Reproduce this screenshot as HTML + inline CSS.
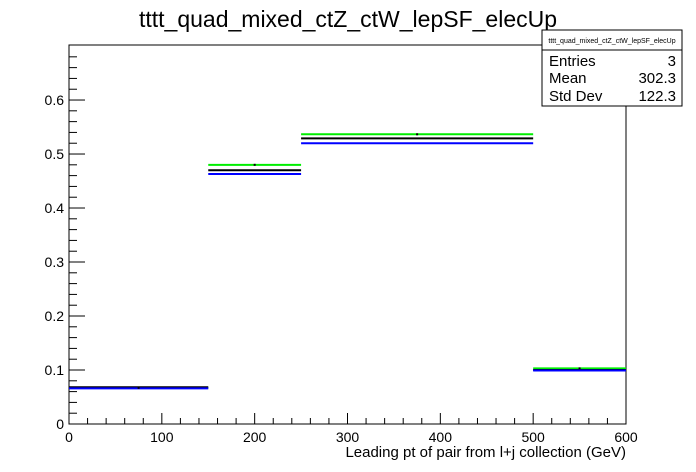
<!DOCTYPE html>
<html><head><style>
body{margin:0;background:#fff;font-family:"Liberation Sans",sans-serif}
svg{display:block}
</style></head><body>
<svg id="c" width="696" height="472" xmlns="http://www.w3.org/2000/svg">
<text x="348" y="27" font-size="23" text-anchor="middle">tttt_quad_mixed_ctZ_ctW_lepSF_elecUp</text>
<g id="axes"></g>
<g id="bars"></g>
<text x="626" y="457" font-size="15" text-anchor="end">Leading pt of pair from l+j collection (GeV)</text>
<g>
<rect x="542" y="30" width="140" height="76" fill="#fff" stroke="#000"/>
<line x1="542" y1="50" x2="682" y2="50" stroke="#000"/>
<text x="612" y="43" font-size="7" text-anchor="middle">tttt_quad_mixed_ctZ_ctW_lepSF_elecUp</text>
<text x="549" y="66" font-size="15">Entries</text><text x="676" y="66" font-size="15" text-anchor="end">3</text>
<text x="549" y="83" font-size="15">Mean</text><text x="676" y="83" font-size="15" text-anchor="end">302.3</text>
<text x="549" y="101" font-size="15">Std Dev</text><text x="676" y="101" font-size="15" text-anchor="end">122.3</text>
</g>
</svg>
<script>
const binEdges=[0,150,250,500,600];
const greenVals=[0.067,0.480,0.5365,0.103];
const blackVals=[0.068,0.470,0.529,0.100];
const blueVals=[0.066,0.463,0.520,0.099];
const xTicks=[0,100,200,300,400,500,600];
const yTicks=[0,0.1,0.2,0.3,0.4,0.5,0.6];
const X0=69,X1=626,Y0=424,YT=45,XMAX=600,YMAX=0.7019;
const sx=v=>X0+(X1-X0)*v/XMAX, sy=v=>Y0-(Y0-YT)*v/YMAX;
const NS="http://www.w3.org/2000/svg";
const ax=document.getElementById('axes'), bars=document.getElementById('bars');
function mk(p,tag,a){const e=document.createElementNS(NS,tag);for(const k in a)e.setAttribute(k,a[k]);p.appendChild(e);return e;}
const fr=mk(ax,'rect',{x:X0,y:YT,width:X1-X0,height:Y0-YT,fill:'none',stroke:'#000'});


for(let v=0;v<=XMAX+1e-9;v+=20){const big=v%100===0;mk(ax,'line',{x1:sx(v),x2:sx(v),y1:Y0,y2:Y0-(big?11:6),stroke:'#000'});}
for(let i=0;i<=68;i+=2){const v=i/100;const big=i%10===0;mk(ax,'line',{x1:X0,x2:X0+(big?16:8),y1:sy(v),y2:sy(v),stroke:'#000'});}
xTicks.forEach(t=>{const e=mk(ax,'text',{x:sx(t),y:Y0+18,'font-size':14,'text-anchor':'middle'});e.textContent=t;

});
yTicks.forEach(t=>{const e=mk(ax,'text',{x:X0-5,y:sy(t)+5,'font-size':14,'text-anchor':'end'});e.textContent=t===0?'0':t.toFixed(1);

});
[[greenVals,'#00ee00','green'],[blackVals,'#000','black'],[blueVals,'#0000ff','blue']].forEach(([vals,col,nm])=>{
vals.forEach((v,i)=>{const l=mk(bars,'line',{x1:sx(binEdges[i]),x2:sx(binEdges[i+1]),y1:sy(v),y2:sy(v),stroke:col,'stroke-width':2});

});});
greenVals.forEach((v,i)=>{const c=(binEdges[i]+binEdges[i+1])/2;const d=mk(bars,'rect',{x:sx(c)-1,y:sy(v)-1,width:2,height:2,fill:'#000'});

});
</script>
</body></html>
